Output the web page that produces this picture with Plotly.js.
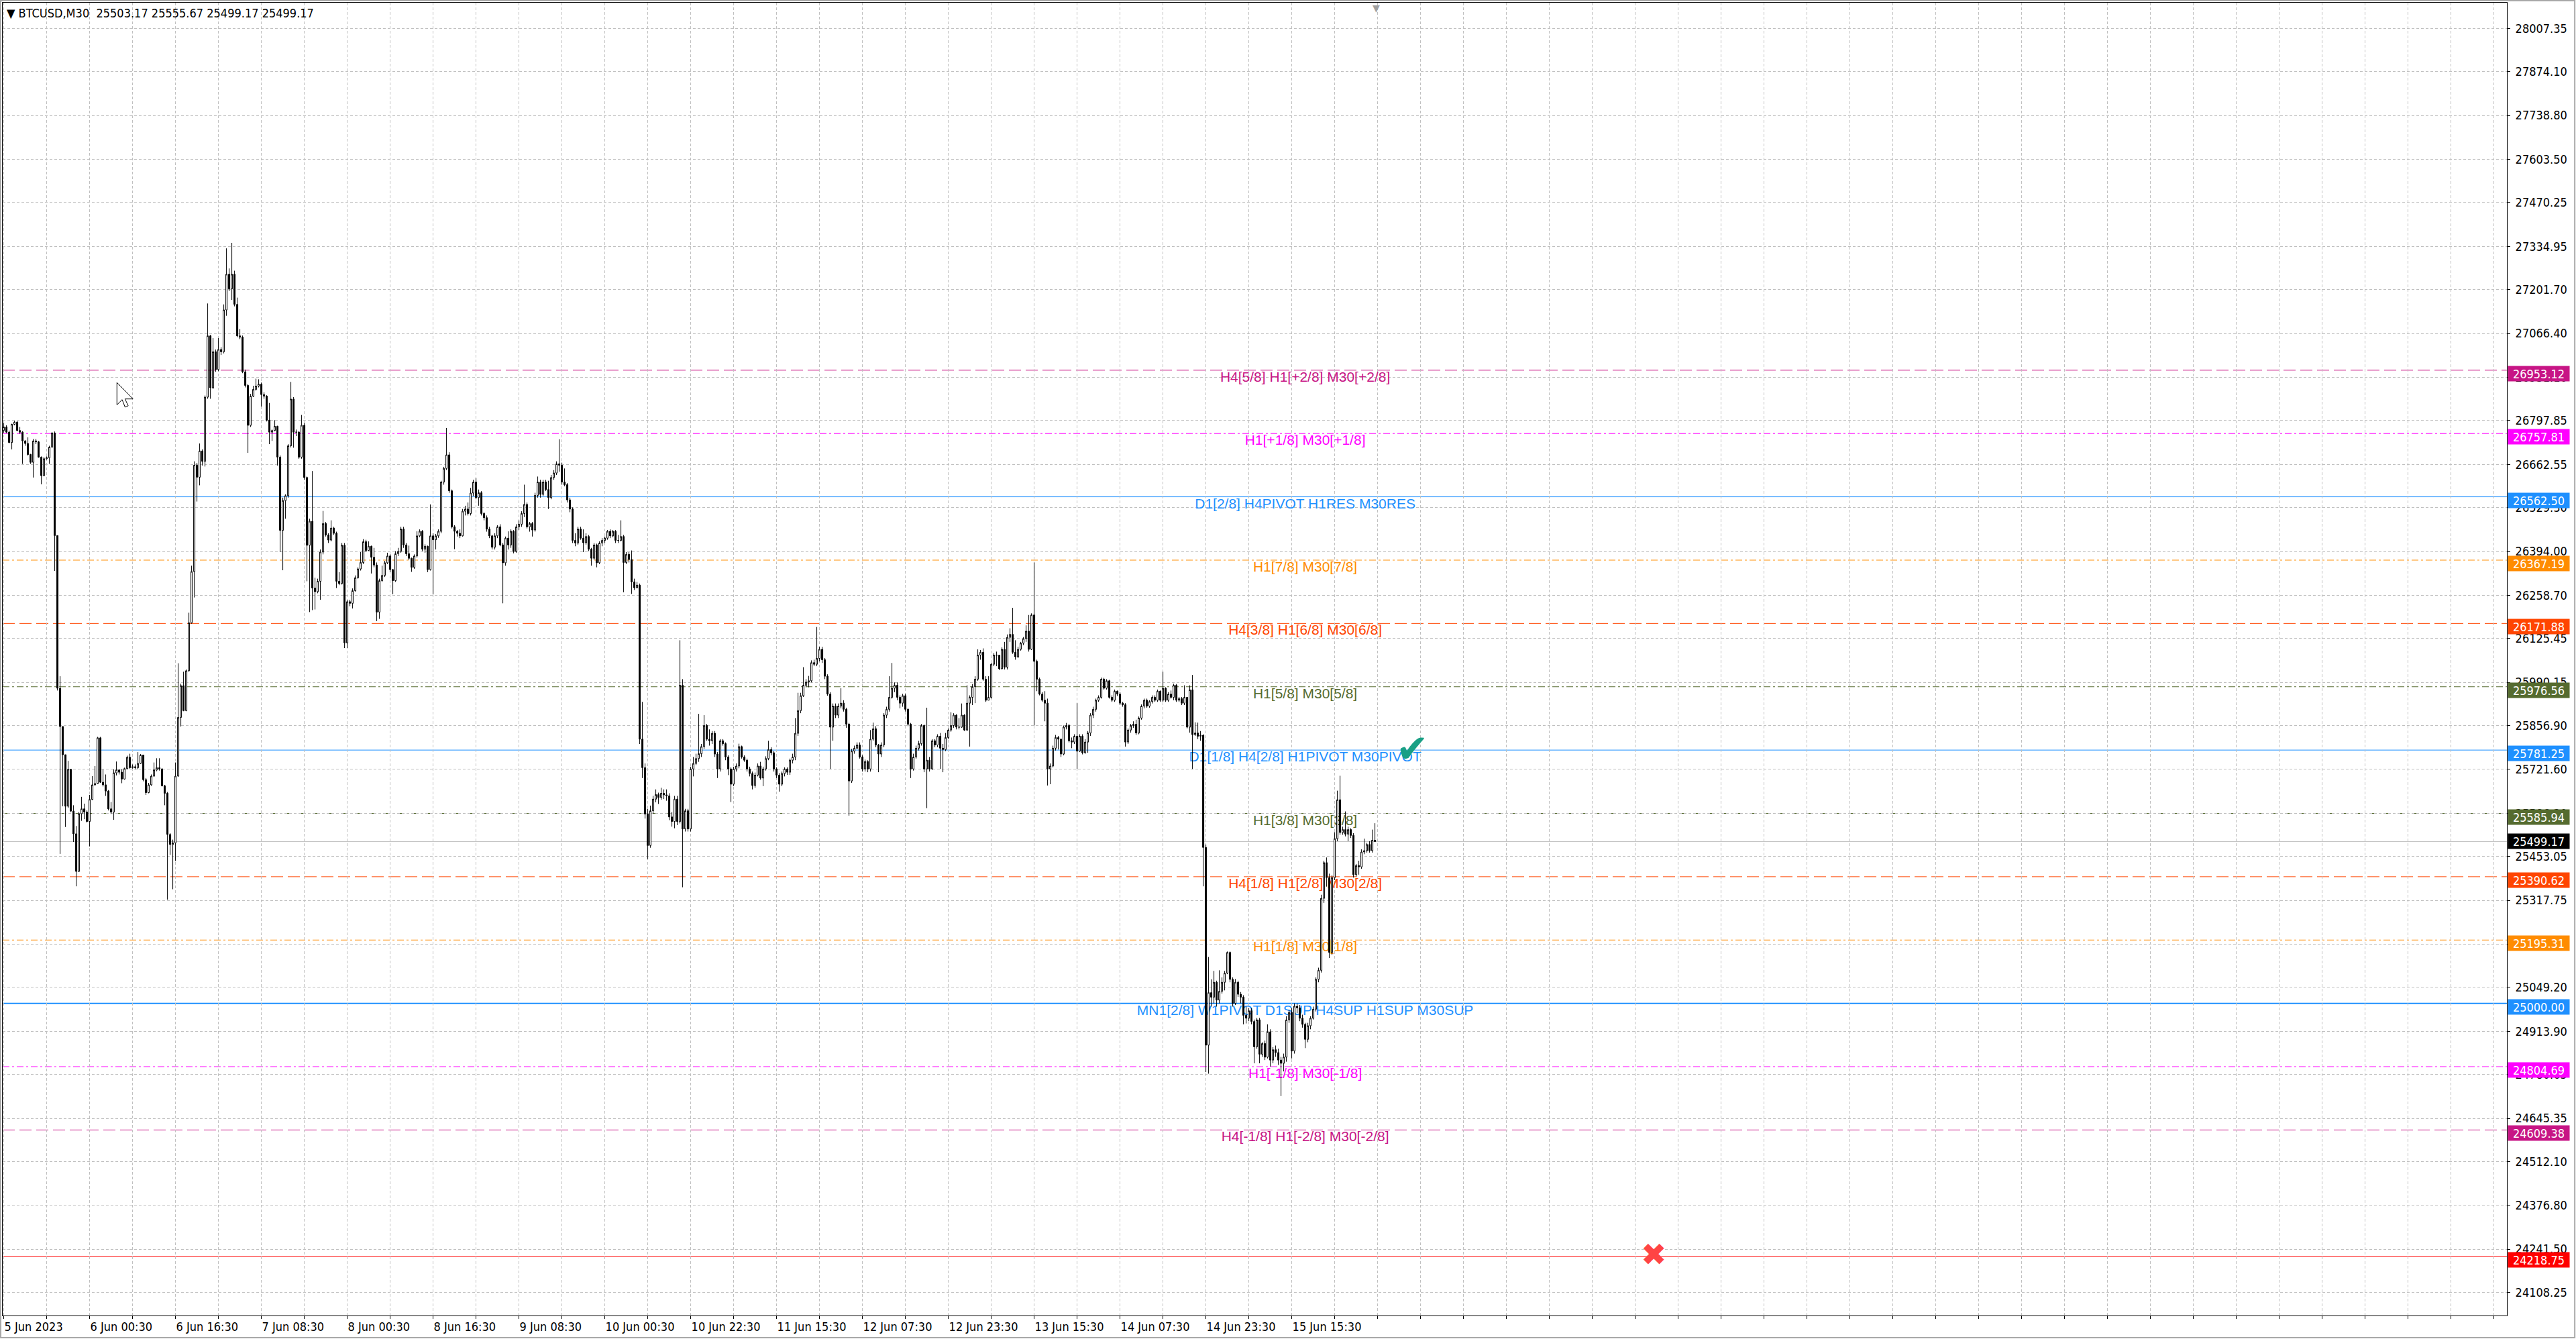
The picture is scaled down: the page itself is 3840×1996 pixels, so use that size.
<!DOCTYPE html>
<html>
<head>
<meta charset="utf-8">
<script src="https://cdn.plot.ly/plotly-3.0.1.min.js"></script>
<style>
  html, body { margin: 0; padding: 0; background: #fff; }
  #chart { width: 3840px; height: 1996px; }
</style>
</head>
<body>
<div id="chart"></div>
<script>
// BTCUSD M30, values.
// open of every bar = close of the bar before it (first bar has its own open)
var firstOpen = 26767;

var closes = [
  26778, 26762, 26730, 26786, 26793, 26767, 26762, 26735, 26727, 26693,
  26669, 26735, 26732, 26685, 26628, 26680, 26683, 26716, 26759, 26443,
  25972, 25854, 25767, 25608, 25722, 25593, 25523, 25407, 25585, 25600,
  25590, 25561, 25629, 25674, 25678, 25819, 25682, 25674, 25655, 25600,
  25590, 25711, 25720, 25713, 25692, 25724, 25759, 25727, 25730, 25727,
  25740, 25766, 25690, 25650, 25674, 25701, 25720, 25727, 25723, 25671,
  25648, 25521, 25490, 25495, 25701, 25882, 25980, 25903, 26026, 26174,
  26332, 26660, 26623, 26704, 26672, 26870, 27059, 26899, 27010, 26955,
  27017, 27010, 27139, 27249, 27204, 27249, 27156, 27059, 27055, 26948,
  26906, 26783, 26873, 26894, 26904, 26910, 26878, 26873, 26799, 26762,
  26767, 26780, 26685, 26459, 26551, 26566, 26720, 26864, 26762, 26762,
  26685, 26783, 26622, 26413, 26487, 26281, 26270, 26302, 26392, 26480,
  26445, 26429, 26466, 26450, 26302, 26295, 26413, 26112, 26239, 26234,
  26273, 26313, 26340, 26360, 26424, 26397, 26410, 26376, 26352, 26207,
  26304, 26320, 26359, 26380, 26338, 26304, 26387, 26394, 26463, 26414,
  26387, 26373, 26345, 26380, 26442, 26456, 26401, 26410, 26338, 26442,
  26430, 26442, 26456, 26608, 26650, 26692, 26581, 26470, 26456, 26450,
  26442, 26518, 26525, 26511, 26574, 26608, 26560, 26575, 26511, 26498,
  26463, 26442, 26407, 26442, 26470, 26414, 26359, 26435, 26414, 26456,
  26394, 26470, 26478, 26511, 26539, 26470, 26480, 26460, 26567, 26608,
  26570, 26608, 26585, 26560, 26622, 26636, 26664, 26660, 26608, 26600,
  26553, 26525, 26428, 26420, 26463, 26435, 26421, 26440, 26401, 26373,
  26414, 26359, 26420, 26428, 26435, 26456, 26442, 26456, 26428, 26428,
  26440, 26360, 26385, 26369, 26300, 26282, 26290, 25815, 25727, 25584,
  25487, 25594, 25630, 25644, 25635, 25648, 25643, 25640, 25575, 25561,
  25630, 25561, 25981, 25538, 25594, 25538, 25723, 25740, 25755, 25770,
  25792, 25857, 25815, 25810, 25833, 25769, 25723, 25810, 25801, 25760,
  25723, 25676, 25723, 25732, 25792, 25760, 25750, 25723, 25709, 25672,
  25704, 25732, 25695, 25723, 25755, 25783, 25773, 25723, 25704, 25676,
  25709, 25723, 25713, 25750, 25760, 25833, 25903, 25949, 25981, 25991,
  25995, 26051, 26046, 26064, 26092, 26060, 26009, 25954, 25852, 25917,
  25889, 25917, 25926, 25907, 25861, 25686, 25778, 25787, 25797, 25760,
  25723, 25746, 25723, 25815, 25847, 25797, 25769, 25797, 25889, 25907,
  25944, 25972, 25981, 25944, 25926, 25949, 25907, 25861, 25723, 25760,
  25787, 25801, 25857, 25723, 25750, 25723, 25810, 25797, 25824, 25787,
  25783, 25820, 25843, 25857, 25889, 25852, 25852, 25889, 25843, 25926,
  25944, 25977, 26000, 26074, 26083, 26000, 25935, 25944, 26046, 26074,
  26074, 26032, 26092, 26037, 26129, 26138, 26083, 26069, 26092, 26111,
  26125, 26148, 26092, 26198, 26055, 26000, 25954, 25935, 25926, 25723,
  25732, 25787, 25820, 25815, 25769, 25852, 25857, 25810, 25806, 25824,
  25778, 25824, 25773, 25806, 25834, 25889, 25907, 25935, 25944, 26000,
  25972, 25995, 25944, 25935, 25963, 25954, 25926, 25921, 25806, 25843,
  25857, 25861, 25834, 25880, 25917, 25935, 25917, 25931, 25944, 25935,
  25963, 25935, 25972, 25935, 25954, 25944, 25981, 25935, 25940, 25926,
  25944, 25852, 25967, 25829, 25834, 25824, 25827, 25481, 24871, 25033,
  25019, 25065, 25010, 25037, 25065, 25093, 25157, 25074, 25000, 25065,
  25028, 25019, 24963, 24954, 24977, 24944, 24866, 24949, 24843, 24876,
  24834, 24912, 24825, 24857, 24848, 24825, 24815, 24834, 24949, 24972,
  24853, 24991, 24986, 24954, 24935, 24889, 24931, 24954, 24982, 25074,
  25102, 25324, 25434, 25388, 25157, 25388, 25508, 25628, 25527, 25536,
  25522, 25536, 25518, 25397, 25425, 25421, 25467, 25471, 25490, 25471,
  25503.17, 25499.17
];

var highs = [
  26790, 26783, 26767, 26788, 26797, 26796, 26778, 26765, 26737, 26746,
  26695, 26741, 26741, 26735, 26687, 26685, 26687, 26720, 26762, 26764,
  26443, 26009, 25854, 25767, 25748, 25722, 25611, 25547, 25590, 25637,
  25616, 25595, 25643, 25701, 25732, 25822, 25822, 25722, 25706, 25658,
  25621, 25722, 25746, 25722, 25722, 25727, 25764, 25770, 25737, 25737,
  25775, 25769, 25766, 25695, 25680, 25706, 25743, 25756, 25756, 25725,
  25674, 25652, 25525, 25505, 25743, 26049, 25986, 26023, 26030, 26205,
  26350, 26672, 26667, 26727, 26709, 26875, 27159, 27062, 27052, 27017,
  27052, 27024, 27156, 27329, 27267, 27346, 27260, 27177, 27080, 27060,
  26955, 26910, 26880, 26905, 26927, 26925, 26915, 26885, 26876, 26852,
  26770, 26799, 26782, 26690, 26560, 26570, 26725, 26917, 26870, 26770,
  26765, 26815, 26790, 26625, 26495, 26642, 26313, 26310, 26400, 26519,
  26485, 26450, 26490, 26470, 26455, 26330, 26420, 26420, 26245, 26245,
  26280, 26320, 26345, 26392, 26432, 26430, 26425, 26412, 26405, 26360,
  26310, 26350, 26365, 26390, 26385, 26340, 26395, 26405, 26470, 26470,
  26420, 26412, 26375, 26385, 26456, 26462, 26460, 26416, 26412, 26539,
  26450, 26448, 26462, 26612, 26655, 26775, 26700, 26585, 26475, 26460,
  26462, 26525, 26535, 26545, 26590, 26615, 26620, 26585, 26580, 26515,
  26505, 26470, 26445, 26450, 26475, 26478, 26420, 26440, 26456, 26462,
  26460, 26478, 26490, 26518, 26600, 26545, 26485, 26485, 26575, 26625,
  26615, 26615, 26615, 26612, 26630, 26645, 26672, 26740, 26668, 26650,
  26605, 26560, 26530, 26450, 26470, 26470, 26462, 26450, 26445, 26405,
  26420, 26418, 26425, 26435, 26440, 26460, 26462, 26460, 26460, 26445,
  26490, 26445, 26392, 26392, 26397, 26310, 26300, 26295, 25930, 25740,
  25600, 25610, 25640, 25660, 25650, 25665, 25660, 25660, 25648, 25590,
  25640, 25640, 26120, 26000, 25600, 25600, 25730, 25760, 25770, 25893,
  25800, 25889, 25862, 25845, 25840, 25840, 25775, 25815, 25815, 25805,
  25765, 25728, 25730, 25740, 25801, 25795, 25765, 25755, 25730, 25715,
  25712, 25740, 25745, 25730, 25762, 25810, 25790, 25778, 25728, 25710,
  25715, 25728, 25728, 25755, 25770, 25880, 25958, 25958, 26037, 26000,
  26010, 26058, 26060, 26161, 26100, 26100, 26065, 26015, 25960, 25925,
  25925, 25925, 25972, 25935, 25912, 25865, 25785, 25795, 25805, 25805,
  25765, 25752, 25750, 25843, 25866, 25855, 25800, 25805, 25895, 25915,
  26009, 26050, 25990, 25990, 25950, 25955, 25955, 25910, 25865, 25770,
  25795, 25810, 25862, 25860, 25912, 25760, 25815, 25815, 25830, 25834,
  25800, 25834, 25848, 25898, 25895, 25892, 25880, 25925, 25892, 25981,
  25950, 25985, 26009, 26092, 26090, 26095, 26009, 26009, 26050, 26080,
  26085, 26070, 26098, 26115, 26138, 26157, 26220, 26120, 26100, 26115,
  26130, 26166, 26198, 26203, 26360, 26060, 26005, 25960, 25963, 25940,
  25740, 25795, 25828, 25825, 25815, 25857, 25865, 25862, 25820, 25830,
  25926, 25830, 25830, 25815, 25840, 25895, 25915, 25940, 25950, 26005,
  26004, 26000, 25998, 25950, 25968, 25965, 25960, 25930, 25926, 25848,
  25862, 25870, 25875, 25885, 25922, 25940, 25940, 25935, 25950, 25950,
  25968, 25965, 26023, 25975, 25960, 25965, 25986, 25985, 25945, 25945,
  25981, 25945, 25981, 26013, 25867, 25866, 25840, 25830, 25490, 25143,
  25074, 25100, 25070, 25102, 25080, 25100, 25160, 25160, 25080, 25075,
  25070, 25035, 25025, 24990, 24985, 24985, 24950, 24955, 24955, 24880,
  24885, 24935, 24920, 24865, 24870, 24860, 24835, 24845, 24960, 24980,
  24985, 25000, 25000, 24995, 24965, 24940, 24940, 24960, 24990, 25080,
  25110, 25335, 25440, 25450, 25400, 25395, 25528, 25656, 25702, 25545,
  25592, 25545, 25540, 25525, 25430, 25440, 25475, 25508, 25495, 25500,
  25536, 25555.67
];

var lows = [
  26760, 26759, 26728, 26709, 26783, 26765, 26757, 26664, 26720, 26690,
  26664, 26622, 26725, 26683, 26601, 26626, 26677, 26664, 26714, 26334,
  25965, 25461, 25608, 25544, 25603, 25590, 25498, 25361, 25405, 25563,
  25568, 25558, 25484, 25627, 25671, 25676, 25680, 25669, 25640, 25595,
  25584, 25566, 25703, 25706, 25679, 25690, 25722, 25724, 25724, 25722,
  25722, 25738, 25685, 25643, 25648, 25671, 25699, 25716, 25718, 25669,
  25611, 25320, 25458, 25352, 25439, 25699, 25854, 25901, 25901, 26023,
  26171, 26252, 26548, 26598, 26659, 26656, 26865, 26865, 26895, 26948,
  26950, 27000, 27005, 27121, 27197, 27170, 27150, 27055, 27049, 26944,
  26900, 26698, 26778, 26870, 26890, 26900, 26841, 26865, 26795, 26725,
  26735, 26765, 26659, 26392, 26336, 26495, 26560, 26715, 26714, 26750,
  26680, 26680, 26615, 26302, 26207, 26213, 26215, 26265, 26245, 26385,
  26440, 26420, 26425, 26445, 26281, 26290, 26292, 26096, 26096, 26225,
  26218, 26270, 26310, 26335, 26355, 26392, 26395, 26326, 26345, 26179,
  26186, 26300, 26315, 26355, 26330, 26262, 26300, 26380, 26390, 26405,
  26380, 26368, 26331, 26340, 26375, 26438, 26395, 26390, 26330, 26335,
  26262, 26400, 26436, 26450, 26600, 26645, 26575, 26465, 26401, 26440,
  26435, 26440, 26505, 26505, 26505, 26565, 26555, 26535, 26505, 26490,
  26455, 26435, 26400, 26400, 26435, 26410, 26234, 26350, 26400, 26405,
  26388, 26390, 26460, 26470, 26500, 26465, 26455, 26440, 26455, 26560,
  26560, 26565, 26580, 26525, 26555, 26615, 26630, 26640, 26600, 26595,
  26545, 26515, 26420, 26410, 26415, 26430, 26392, 26415, 26395, 26350,
  26368, 26345, 26355, 26410, 26420, 26430, 26435, 26438, 26420, 26420,
  26425, 26268, 26355, 26360, 26263, 26275, 26280, 25800, 25695, 25570,
  25445, 25480, 25585, 25620, 25615, 25628, 25630, 25625, 25565, 25545,
  25540, 25550, 25555, 25358, 25530, 25530, 25530, 25700, 25735, 25745,
  25760, 25785, 25810, 25795, 25800, 25760, 25695, 25715, 25795, 25750,
  25704, 25621, 25670, 25715, 25725, 25755, 25745, 25715, 25700, 25660,
  25665, 25700, 25690, 25670, 25718, 25750, 25765, 25715, 25695, 25653,
  25670, 25700, 25705, 25705, 25740, 25750, 25825, 25895, 25945, 25975,
  25975, 25990, 26040, 26040, 26055, 26050, 26000, 25949, 25723, 25810,
  25880, 25880, 25910, 25900, 25850, 25579, 25680, 25770, 25785, 25755,
  25715, 25715, 25713, 25715, 25810, 25790, 25713, 25760, 25790, 25880,
  25900, 25940, 25960, 25935, 25910, 25915, 25900, 25855, 25695, 25718,
  25755, 25780, 25795, 25713, 25602, 25715, 25720, 25790, 25790, 25723,
  25713, 25778, 25815, 25838, 25850, 25845, 25845, 25850, 25840, 25840,
  25792, 25920, 25926, 25995, 26060, 25995, 25930, 25935, 25940, 26040,
  26040, 26028, 26030, 26030, 26030, 26115, 26078, 26060, 26065, 26088,
  26105, 26115, 26085, 26090, 25857, 25963, 25950, 25930, 25870, 25672,
  25676, 25728, 25780, 25783, 25760, 25765, 25845, 25805, 25787, 25800,
  25723, 25775, 25768, 25770, 25773, 25825, 25880, 25900, 25930, 25940,
  25968, 25968, 25940, 25930, 25930, 25948, 25920, 25915, 25792, 25800,
  25835, 25850, 25828, 25830, 25875, 25910, 25912, 25912, 25925, 25930,
  25930, 25930, 25930, 25930, 25930, 25940, 25935, 25930, 25930, 25920,
  25920, 25848, 25835, 25723, 25825, 25815, 25810, 25361, 24788, 24783,
  24990, 25000, 24990, 25000, 25030, 25040, 25090, 25065, 24990, 24995,
  25020, 25000, 24935, 24938, 24945, 24935, 24815, 24860, 24815, 24835,
  24825, 24830, 24805, 24815, 24835, 24810, 24714, 24790, 24820, 24940,
  24830, 24845, 24970, 24945, 24925, 24862, 24880, 24920, 24950, 24975,
  25065, 25095, 25310, 25360, 25140, 25150, 25380, 25500, 25520, 25520,
  25515, 25500, 25510, 25388, 25390, 25397, 25415, 25460, 25465, 25465,
  25465, 25499.17
];

// time axis labels, one every 32 bars
var timeTickBars = [0, 32, 64, 96, 128, 160, 192, 224, 256, 288, 320, 352, 384, 416, 448, 480];
var timeTickLabels = ['5 Jun 2023', '6 Jun 00:30', '6 Jun 16:30', '7 Jun 08:30', '8 Jun 00:30',
  '8 Jun 16:30', '9 Jun 08:30', '10 Jun 00:30', '10 Jun 22:30', '11 Jun 15:30', '12 Jun 07:30',
  '12 Jun 23:30', '13 Jun 15:30', '14 Jun 07:30', '14 Jun 23:30', '15 Jun 15:30'];

var priceTicks = [28007.35, 27874.10, 27738.80, 27603.50, 27470.25, 27334.95, 27201.70, 27066.40,
  26931.10, 26797.85, 26662.55, 26529.30, 26394.00, 26258.70, 26125.45, 25990.15, 25856.90,
  25721.60, 25586.30, 25453.05, 25317.75, 25182.45, 25049.20, 24913.90, 24780.65, 24645.35,
  24512.10, 24376.80, 24241.50, 24108.25];

// Murrey / pivot levels
var levelPrices = [26953.12, 26757.81, 26562.50, 26367.19, 26171.88, 25976.56, 25781.25,
  25585.94, 25390.62, 25195.31, 25000.00, 24804.69, 24609.38];
var levelNames = [
  'H4[5/8] H1[+2/8] M30[+2/8]',
  'H1[+1/8] M30[+1/8]',
  'D1[2/8] H4PIVOT H1RES M30RES',
  'H1[7/8] M30[7/8]',
  'H4[3/8] H1[6/8] M30[6/8]',
  'H1[5/8] M30[5/8]',
  'D1[1/8] H4[2/8] H1PIVOT M30PIVOT',
  'H1[3/8] M30[3/8]',
  'H4[1/8] H1[2/8] M30[2/8]',
  'H1[1/8] M30[1/8]',
  'MN1[2/8] W1PIVOT D1SUP H4SUP H1SUP M30SUP',
  'H1[-1/8] M30[-1/8]',
  'H4[-1/8] H1[-2/8] M30[-2/8]'
];
var stopPrice = 24218.75;

// ---- styles ----
var VIOLET = '#C71585', MAGENTA = '#FF00FF', BLUE = '#1E90FF',
    ORANGE = '#FF8C00', ORANGERED = '#FF4500', OLIVE = '#556B2F';
var DASH = '18px,7px', DASHDOT = '10px,4px,3px,4px';
var levelStyles = [
  {color: VIOLET, dash: DASH, width: 1},
  {color: MAGENTA, dash: DASHDOT, width: 1},
  {color: BLUE, dash: 'solid', width: 1},
  {color: ORANGE, dash: DASHDOT, width: 1},
  {color: ORANGERED, dash: DASH, width: 1},
  {color: OLIVE, dash: DASHDOT, width: 1},
  {color: BLUE, dash: 'solid', width: 1},
  {color: OLIVE, dash: DASHDOT, width: 1},
  {color: ORANGERED, dash: DASH, width: 1},
  {color: ORANGE, dash: DASHDOT, width: 1},
  {color: BLUE, dash: 'solid', width: 2},
  {color: MAGENTA, dash: DASHDOT, width: 1},
  {color: VIOLET, dash: DASH, width: 1}
];
var AXIS_FONT = "'DejaVu Sans Condensed', 'DejaVu Sans', sans-serif";
var AXIS_SIZE = 18;
var LABEL_FONT = "'Liberation Sans', Arial, sans-serif";
var LABEL_BAR = 485;   // where the level names are centred
var GRID = '#c0c0c0';
var Y_RANGE = [24037, 28086.8];
var PLOT_H = 1957;
var LABEL_LIFT = 4 * (Y_RANGE[1] - Y_RANGE[0]) / PLOT_H;   // 4 px up

var barIdx = [], opens = [];
for (var i = 0; i < closes.length; i++) {
  barIdx.push(i);
  opens.push(i === 0 ? firstOpen : closes[i - 1]);
}
var last = closes.length - 1;
var lastPrice = closes[last];

var candles = {
  type: 'candlestick',
  x: barIdx, open: opens, high: highs, low: lows, close: closes,
  increasing: {line: {color: '#000000', width: 1}, fillcolor: '#ffffff'},
  decreasing: {line: {color: '#000000', width: 1}, fillcolor: '#000000'},
  whiskerwidth: 0,
  hoverinfo: 'skip',
  showlegend: false
};

var shapes = [];
var annotations = [];

function priceBox(p, color, shift) {
  annotations.push({
    xref: 'paper', x: 1, xanchor: 'left', xshift: 1,
    yref: 'y', y: p, yanchor: 'middle', yshift: shift,
    text: p.toFixed(2), showarrow: false,
    bgcolor: color, width: 87, height: 18, borderpad: 2, align: 'center',
    font: {family: AXIS_FONT, size: AXIS_SIZE, color: '#ffffff'}
  });
}

levelPrices.forEach(function (p, k) {
  var st = levelStyles[k];
  shapes.push({
    type: 'line', xref: 'paper', x0: 0, x1: 1, yref: 'y', y0: p, y1: p,
    layer: 'between', line: {color: st.color, width: st.width, dash: st.dash}
  });
  shapes.push({
    type: 'line', xref: 'x', x0: LABEL_BAR - 1, x1: LABEL_BAR + 1, yref: 'y',
    y0: p + LABEL_LIFT, y1: p + LABEL_LIFT,
    layer: 'between', line: {color: 'rgba(0,0,0,0)', width: 1},
    label: {
      text: levelNames[k], textposition: 'middle', yanchor: 'top', padding: 0,
      font: {family: LABEL_FONT, size: 21, color: st.color}
    }
  });
  priceBox(p, st.color, -5);
});

// current price line and the red stop line
shapes.push({type: 'line', xref: 'paper', x0: 0, x1: 1, yref: 'y', y0: lastPrice, y1: lastPrice,
  layer: 'between', line: {color: '#c0c0c0', width: 1}});
priceBox(lastPrice, '#000000', 0);
shapes.push({type: 'line', xref: 'paper', x0: 0, x1: 1, yref: 'y', y0: stopPrice, y1: stopPrice,
  layer: 'between', line: {color: '#FF0000', width: 1}});
priceBox(stopPrice, '#FF0000', -5);

// header
annotations.push({
  xref: 'paper', x: 0, xanchor: 'left', xshift: 4,
  yref: 'paper', y: 1, yanchor: 'top', yshift: -3,
  text: '\u25BC BTCUSD,M30\u00a0\u00a0' + opens[last].toFixed(2) + ' ' + highs[last].toFixed(2) +
        ' ' + lows[last].toFixed(2) + ' ' + closes[last].toFixed(2),
  showarrow: false, font: {family: AXIS_FONT, size: AXIS_SIZE, color: '#000000'}
});

// chart-shift marker on the top border, above the last bar
annotations.push({x: last + 0.5, xref: 'x', y: 1, yref: 'paper', yanchor: 'top', yshift: 2,
  text: '\u25BC', showarrow: false, font: {family: 'DejaVu Sans', size: 14, color: '#a0a0a0'}});

// trade marks: check on the pivot, cross on the stop line
annotations.push({x: last + 14, y: levelPrices[6], xref: 'x', yref: 'y', text: '\u2714',
  showarrow: false, yshift: 2, font: {family: 'DejaVu Sans', size: 58, color: '#1aa085'}});
annotations.push({x: last + 104, y: stopPrice, xref: 'x', yref: 'y', text: '\u2716',
  showarrow: false, yshift: 3, font: {family: 'DejaVu Sans', size: 46, color: '#ff4444'}});

// mouse pointer left on the chart
var cur = [[0.04562, 0.71068], [0.04562, 0.69371], [0.04771, 0.69765], [0.04886, 0.69193],
           [0.05012, 0.69295], [0.04886, 0.69816], [0.05202, 0.69816]];
shapes.push({
  type: 'path', xref: 'paper', yref: 'paper', layer: 'above',
  path: 'M' + cur.map(function (q) { return q[0] + ',' + q[1]; }).join(' L') + ' Z',
  fillcolor: '#ffffff', line: {color: '#000000', width: 1}
});

// outer window frame
shapes.push({type: 'rect', xref: 'paper', yref: 'paper', x0: -0.0008, x1: 1.0271, y0: -0.0169, y1: 1.0015,
  layer: 'above', line: {color: '#a8a8a8', width: 2}});

// vertical grid every 16 bars, labels every 32
var gridVals = [], gridText = [];
for (var g = 0; g <= 928; g += 16) {
  gridVals.push(g);
  var t = timeTickBars.indexOf(g);
  gridText.push(t >= 0 ? timeTickLabels[t] : '');
}

var layout = {
  width: 3840, height: 1996, autosize: false,
  margin: {l: 4, r: 103, t: 4, b: 35, pad: 0},
  paper_bgcolor: '#ffffff', plot_bgcolor: '#ffffff',
  font: {family: AXIS_FONT, size: AXIS_SIZE, color: '#000000'},
  showlegend: false,
  hovermode: false,
  xaxis: {
    range: [-0.4, 932.85], type: 'linear',
    tickmode: 'array', tickvals: gridVals, ticktext: gridText,
    ticklabelposition: 'outside right',
    showgrid: true, gridcolor: GRID, griddash: '4px,3px', gridwidth: 1,
    ticks: 'outside', ticklen: 4, tickcolor: '#000000',
    showline: true, linecolor: '#000000', linewidth: 1, mirror: true,
    zeroline: false, rangeslider: {visible: false}, fixedrange: true,
    tickfont: {family: AXIS_FONT, size: AXIS_SIZE, color: '#000000'}
  },
  yaxis: {
    side: 'right', range: Y_RANGE, type: 'linear',
    tickmode: 'array', tickvals: priceTicks,
    ticktext: priceTicks.map(function (v) { return v.toFixed(2); }),
    showgrid: true, gridcolor: GRID, griddash: '4px,3px', gridwidth: 1,
    ticks: 'outside', ticklen: 4, tickcolor: '#000000', ticklabelstandoff: 4,
    showline: true, linecolor: '#000000', linewidth: 1, mirror: true,
    zeroline: false, fixedrange: true,
    tickfont: {family: AXIS_FONT, size: AXIS_SIZE, color: '#000000'}
  },
  shapes: shapes,
  annotations: annotations
};

Plotly.newPlot('chart', [candles], layout, {staticPlot: true, displayModeBar: false});
</script>
</body>
</html>
